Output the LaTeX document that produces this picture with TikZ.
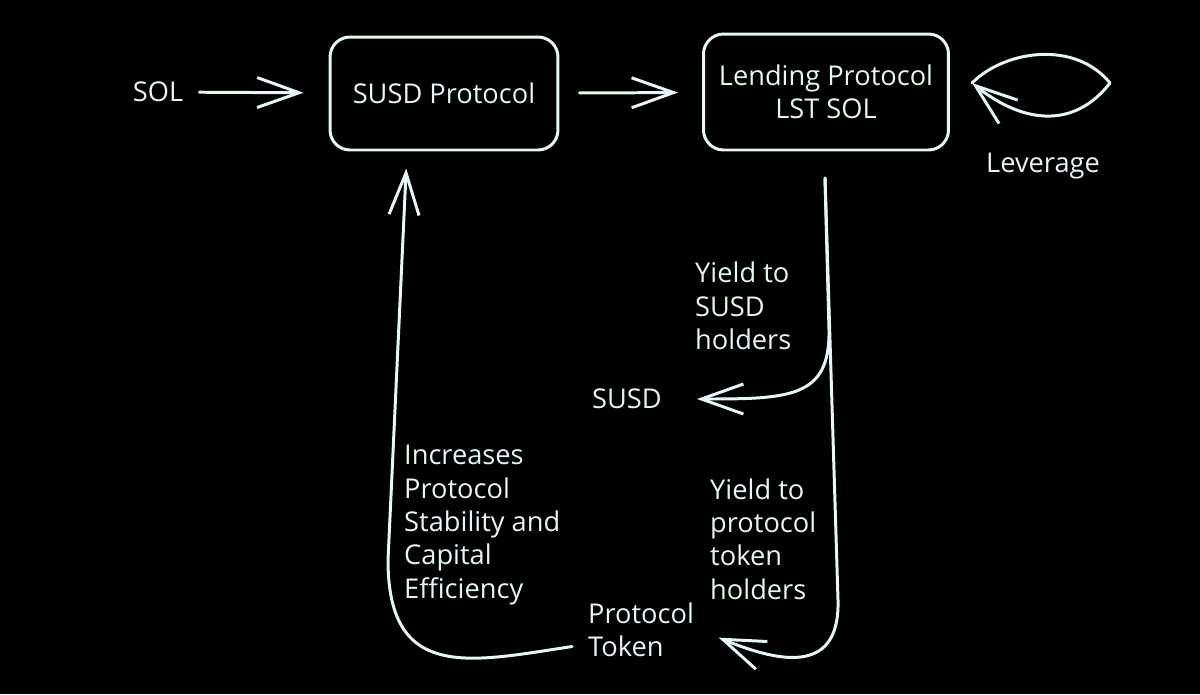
\documentclass[tikz,border=0pt]{standalone}
\usepackage{fontspec}
\setmainfont{Open Sans}
\usetikzlibrary{arrows.meta}
\definecolor{ink}{RGB}{228,247,249}
\tikzset{
  box/.style  = {draw=ink, line width=1.7pt, rounded corners=0.4cm,
                 text=ink, align=center, font=\fontsize{15.5}{19}\selectfont},
  lbl/.style  = {text=ink, align=left, font=\fontsize{15.5}{19}\selectfont},
  flow/.style = {draw=ink, line width=1.7pt, line cap=round, line join=round,
                 -{Straight Barb[length=0.84cm, width=0.6cm]}}
}

\begin{document}
\begin{tikzpicture}[x=0.02cm, y=-0.02cm]
\fill[black] (0,0) rectangle (1200,694); % background, fixes the margins
\node[box, minimum width=4.56cm, minimum height=2.26cm] (susd) at (444,93.5) {SUSD Protocol};
\node[box, minimum width=4.9cm, minimum height=2.32cm] (lend) at (826,92) {Lending Protocol\\LST SOL};
\node[lbl] (sol) at (158,92) {SOL};
\node[lbl] (lev) at (1043,166) {Leverage};
\node[lbl, anchor=west] (yieldsusd) at (689,306) {Yield to\\SUSD\\holders};
\node[lbl] (susdout) at (627,399) {SUSD};
\node[lbl, anchor=west] (yieldtok) at (704,539) {Yield to\\protocol\\token\\holders};
\node[lbl, anchor=west] (token) at (582,630) {Protocol\\Token};
\node[lbl, anchor=west] (gain) at (398,525) {Increases\\Protocol\\Stability and\\Capital\\Efficiency};
\coordinate (levtip) at (972,83);  % loop closes on itself
\coordinate (split) at (825,178);  % both yield lines start here
\draw[flow, shorten <=0.2cm, shorten >=0.5cm] (sol) -- (susd);
\draw[flow, shorten <=0.4cm, shorten >=0.48cm] (susd) -- (lend);
\draw[flow] (levtip) .. controls (1005,50) and (1075,40) .. (1110,83)
            .. controls (1075,128) and (1025,125) .. (levtip); % leverage loop
\draw[flow, shorten >=0.58cm] (split) -- (829,330) .. controls (830,398) and (790,399) .. (susdout.east);
\draw[flow, shorten >=0.4cm] (split) -- (838,600) .. controls (840,672) and (785,665) .. (token.east);
\draw[flow, shorten <=0.2cm, shorten >=0.34cm] ([yshift=-0.3cm]token.west)
      .. controls (470,662) and (388,682) .. (388,560) -- ([xshift=-0.74cm]susd.south);
\end{tikzpicture}
\end{document}
